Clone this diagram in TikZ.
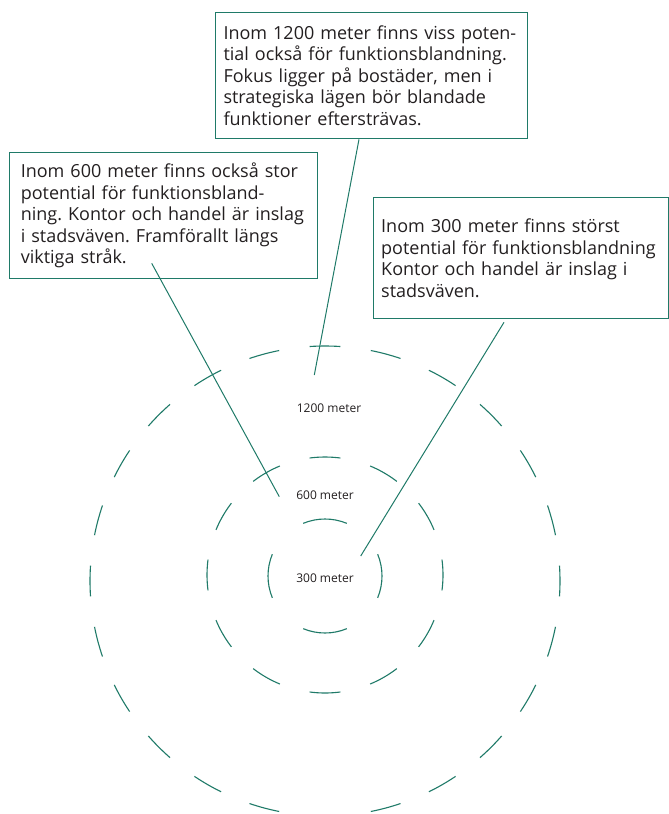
\documentclass[tikz,border=0pt]{standalone}
\usepackage{fontspec}
\setmainfont{Open Sans}
\frenchspacing
\definecolor{zoneTeal}{RGB}{31,122,104}
\definecolor{zoneText}{RGB}{35,31,32}
\usetikzlibrary{calc}

\begin{document}
\begin{tikzpicture}[x=1pt, y=1pt,
  info/.style={draw=zoneTeal, line width=1pt, anchor=north west, align=left,
               inner ysep=0pt, text=zoneText,
               font=\fontsize{18}{21.5}\selectfont},
  ring/.style={draw=zoneTeal, line width=1.1pt},
  lead/.style={draw=zoneTeal, line width=1pt},
  dist/.style={text=zoneText, font=\fontsize{12}{14}\selectfont}
]
  \useasboundingbox (0,0) rectangle (669,-814);

  \coordinate (c300) at (325,-576);
  \coordinate (c600) at (325,-575);
  \coordinate (c1200) at (325,-581);

  \foreach \a in {0,90,...,270}
    \draw[ring] (c300) ++(\a-22.5:57) arc[start angle=\a-22.5, end angle=\a+22.5, radius=57];
  \foreach \a in {0,30,...,330}
    \draw[ring] (c600) ++(\a-7.5:118) arc[start angle=\a-7.5, end angle=\a+7.5, radius=118];
  \foreach \a in {0,15,...,345}
    \draw[ring] (c1200) ++(\a-3.75:235) arc[start angle=\a-3.75, end angle=\a+3.75, radius=235];

  \node[dist] (l1200) at (329,-408) {1200 meter};
  \node[dist] (l600) at (325,-495) {600 meter};
  \node[dist] (l300) at (325,-578) {300 meter};

  \node[info, minimum width=312, minimum height=126.6, inner xsep=8pt, text width=296pt]
        (box1200) at (215,-11.7)
        {Inom 1200 meter finns viss poten-\\
         tial också för funktionsblandning.\\
         Fokus ligger på bostäder, men i\\
         strategiska lägen bör blandade\\
         funktioner eftersträvas.};
  \node[info, minimum width=307.4, minimum height=126.6, inner xsep=11pt, text width=285.4pt]
        (box600) at (9.3,-151.7)
        {Inom 600 meter finns också stor\\
         potential för funktionsbland-\\
         ning. Kontor och handel är inslag\\
         i stadsväven. Framförallt längs\\
         viktiga stråk.};
  \node[info, minimum width=295.6, minimum height=121.6, inner xsep=8pt, text width=279.6pt]
        (box300) at (372.7,-196.7)
        {Inom 300 meter finns störst\\
         potential för funktionsblandning\\
         Kontor och handel är inslag i\\
         stadsväven.};

  \coordinate (s600) at (151.7,-263.3);
  \coordinate (t1200) at (314.3,-375);
  \coordinate (t600) at (279.3,-496.7);
  \coordinate (t300) at (360.7,-556);

  \draw[lead] ($(box1200.south west)+(144,0)$) -- (t1200);
  \draw[lead] (s600) -- (t600);
  \draw[lead] ($(box300.south west)+(131.3,-3)$) -- (t300);
\end{tikzpicture}
\end{document}
